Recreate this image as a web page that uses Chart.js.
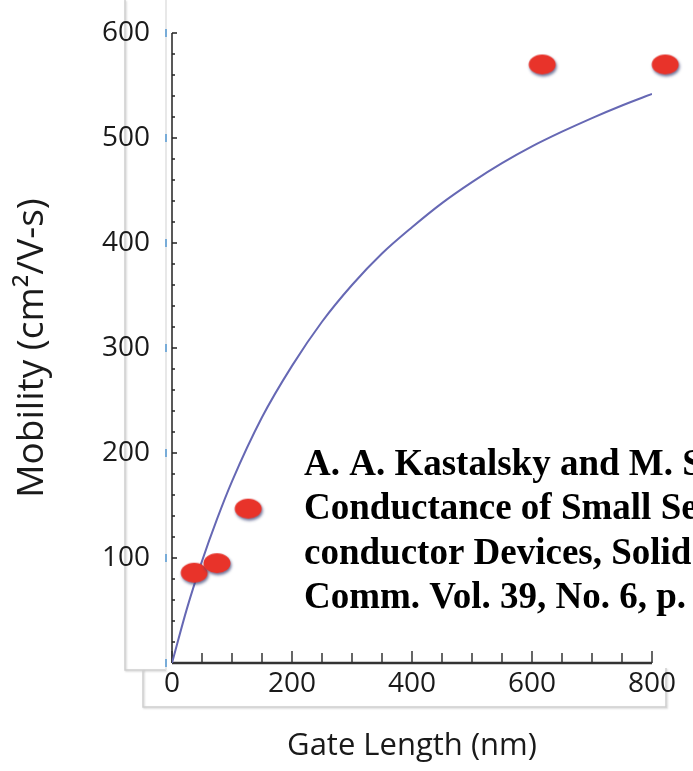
<!DOCTYPE html>
<html>
<head>
<meta charset="utf-8">
<title>Mobility vs gate length</title>
<script src="https://cdn.jsdelivr.net/npm/chart.js@4.4.1/dist/chart.umd.min.js"></script>
<style>
  html, body { margin: 0; padding: 0; background: #fff; }
  canvas { display: block; }
</style>
</head>
<body>
<canvas id="chart" width="693" height="771"></canvas>
<script>
// measured points
const gateLength = [37, 75, 127, 617, 822];
const mobility = [86, 95, 147, 570, 570];

// fitted curve
const fitLength = [0, 25, 50, 75, 100, 150, 200, 250, 300, 350, 400, 450, 500, 550, 600, 650, 700, 750, 800];
const fitMobility = [0, 52, 97, 137, 173, 234, 283, 325, 360, 390, 415, 438, 458, 476, 492, 506, 519, 531, 542];

const xTicks = [0, 200, 400, 600, 800];
const yTicks = [100, 200, 300, 400, 500, 600];
const xMinorStep = 50;
const yMinorStep = 20;

const citation = [
    "A. A. Kastalsky and M. S. Shur,",
    "Conductance of Small Semi-",
    "conductor Devices, Solid State",
    "Comm. Vol. 39, No. 6, p. 715 (1981)"
];

// red ellipse with a soft shadow, used as the point style
function makeDot() {
    const c = document.createElement("canvas");
    c.width = 40;
    c.height = 34;
    const g = c.getContext("2d");
    g.shadowColor = "rgba(60, 70, 120, 0.75)";
    g.shadowBlur = 3;
    g.shadowOffsetX = 1;
    g.shadowOffsetY = 2;
    g.fillStyle = "#e8332a";
    g.beginPath();
    g.ellipse(20, 17, 13.5, 10, 0, 0, Math.PI * 2);
    g.fill();
    return c;
}

const axesPlugin = {
    id: "axes",
    beforeDraw(chart) {
        const { ctx, chartArea: a } = chart;
        ctx.save();
        ctx.fillStyle = "#fff";
        ctx.fillRect(0, 0, chart.width, chart.height);

        // grey frames
        ctx.shadowColor = "rgba(0,0,0,0.18)";
        ctx.shadowBlur = 2;
        ctx.shadowOffsetX = 1;
        ctx.shadowOffsetY = 1;
        ctx.strokeStyle = "#cfcfcf";
        ctx.lineWidth = 1.5;
        ctx.beginPath();
        ctx.moveTo(a.left - 47, 0);
        ctx.lineTo(a.left - 47, a.bottom + 7);
        ctx.lineTo(a.left - 6, a.bottom + 7);
        ctx.stroke();

        ctx.beginPath();
        ctx.moveTo(a.left - 29, a.bottom + 7);
        ctx.lineTo(a.left - 29, a.bottom + 44);
        ctx.lineTo(a.right + 14, a.bottom + 44);
        ctx.lineTo(a.right + 14, a.bottom + 5);
        ctx.stroke();

        ctx.shadowColor = "transparent";
        ctx.strokeStyle = "#e0e0e0";
        ctx.beginPath();
        ctx.moveTo(a.left - 6, 0);
        ctx.lineTo(a.left - 6, a.bottom + 7);
        ctx.stroke();

        // faint blue marks beside the tick labels
        const y = chart.scales.y;
        ctx.strokeStyle = "#78acd8";
        ctx.lineWidth = 2;
        [0].concat(yTicks).forEach(v => {
            const py = y.getPixelForValue(v);
            ctx.beginPath();
            ctx.moveTo(a.left - 6, py - 4);
            ctx.lineTo(a.left - 6, py + 4);
            ctx.stroke();
        });
        ctx.restore();
    },
    beforeDatasetsDraw(chart) {
        const { ctx, chartArea: a, scales: { x, y } } = chart;
        ctx.save();

        // y axis with small ticks pointing right
        ctx.strokeStyle = "#222";
        ctx.lineWidth = 1.5;
        ctx.beginPath();
        ctx.moveTo(a.left, y.getPixelForValue(600));
        ctx.lineTo(a.left, a.bottom);
        ctx.stroke();
        for (let v = 0; v <= 600; v += yMinorStep) {
            const py = y.getPixelForValue(v);
            const len = v % 100 === 0 ? 5 : 3;
            ctx.beginPath();
            ctx.moveTo(a.left, py);
            ctx.lineTo(a.left + len, py);
            ctx.stroke();
        }

        // x axis with ticks pointing up
        ctx.strokeStyle = "#333";
        ctx.lineWidth = 2.5;
        ctx.beginPath();
        ctx.moveTo(a.left, a.bottom);
        ctx.lineTo(x.getPixelForValue(800), a.bottom);
        ctx.stroke();
        ctx.lineWidth = 1.5;
        for (let v = 0; v <= 800; v += xMinorStep) {
            const px = x.getPixelForValue(v);
            const len = v % 200 === 0 ? 12 : 10;
            ctx.beginPath();
            ctx.moveTo(px, a.bottom);
            ctx.lineTo(px, a.bottom - len);
            ctx.stroke();
        }
        ctx.restore();
    }
};

const citationPlugin = {
    id: "citation",
    afterDraw(chart) {
        const ctx = chart.ctx;
        ctx.save();
        ctx.font = 'bold 37px "Liberation Serif"';
        ctx.fillStyle = "#000";
        citation.forEach((line, i) => {
            ctx.save();
            ctx.translate(304, 475 + i * 44.3);
            ctx.scale(1, 1.03);
            ctx.fillText(line, 0, 0);
            ctx.restore();
        });
        ctx.restore();
    }
};

const labelFont = { family: "Open Sans", size: 28 };

new Chart(document.getElementById("chart"), {
    type: "scatter",
    data: {
        datasets: [
            {
                label: "Fit",
                data: fitLength.map((v, i) => ({ x: v, y: fitMobility[i] })),
                showLine: true,
                borderColor: "#6668b4",
                borderWidth: 2,
                pointRadius: 0,
                cubicInterpolationMode: "monotone",
                order: 2
            },
            {
                label: "Measured",
                data: gateLength.map((v, i) => ({ x: v, y: mobility[i] })),
                pointStyle: makeDot(),
                pointRadius: 13,
                hoverRadius: 22,
                clip: false,
                order: 1
            }
        ]
    },
    options: {
        responsive: false,
        animation: false,
        events: [],
        layout: { padding: { top: 33, right: 41, left: 0, bottom: 0 } },
        plugins: {
            legend: { display: false },
            tooltip: { enabled: false }
        },
        scales: {
            x: {
                type: "linear",
                min: 0,
                max: 800,
                afterBuildTicks: s => { s.ticks = xTicks.map(v => ({ value: v })); },
                afterFit: s => {
                    s.height = 108;
                    s.paddingLeft = 0;
                    s.paddingRight = 0;
                },
                grid: { display: false, drawTicks: false },
                border: { display: false },
                ticks: { padding: 4, font: labelFont, color: "#1a1a1a", maxRotation: 0 },
                title: {
                    display: true,
                    text: "Gate Length (nm)",
                    font: { family: "Open Sans", size: 31 },
                    color: "#1a1a1a",
                    padding: { bottom: 6 }
                }
            },
            y: {
                type: "linear",
                min: 0,
                max: 600,
                afterBuildTicks: s => { s.ticks = yTicks.map(v => ({ value: v })); },
                afterFit: s => {
                    s.width = 172;
                    s.paddingTop = 0;
                    s.paddingBottom = 0;
                },
                grid: { display: false, drawTicks: false },
                border: { display: false },
                ticks: { padding: 22, font: labelFont, color: "#1a1a1a" },
                title: {
                    display: true,
                    text: "Mobility (cm²/V-s)",
                    font: { family: "Open Sans", size: 37 },
                    color: "#1a1a1a",
                    padding: { top: 10 }
                }
            }
        }
    },
    plugins: [axesPlugin, citationPlugin]
});
</script>
</body>
</html>
